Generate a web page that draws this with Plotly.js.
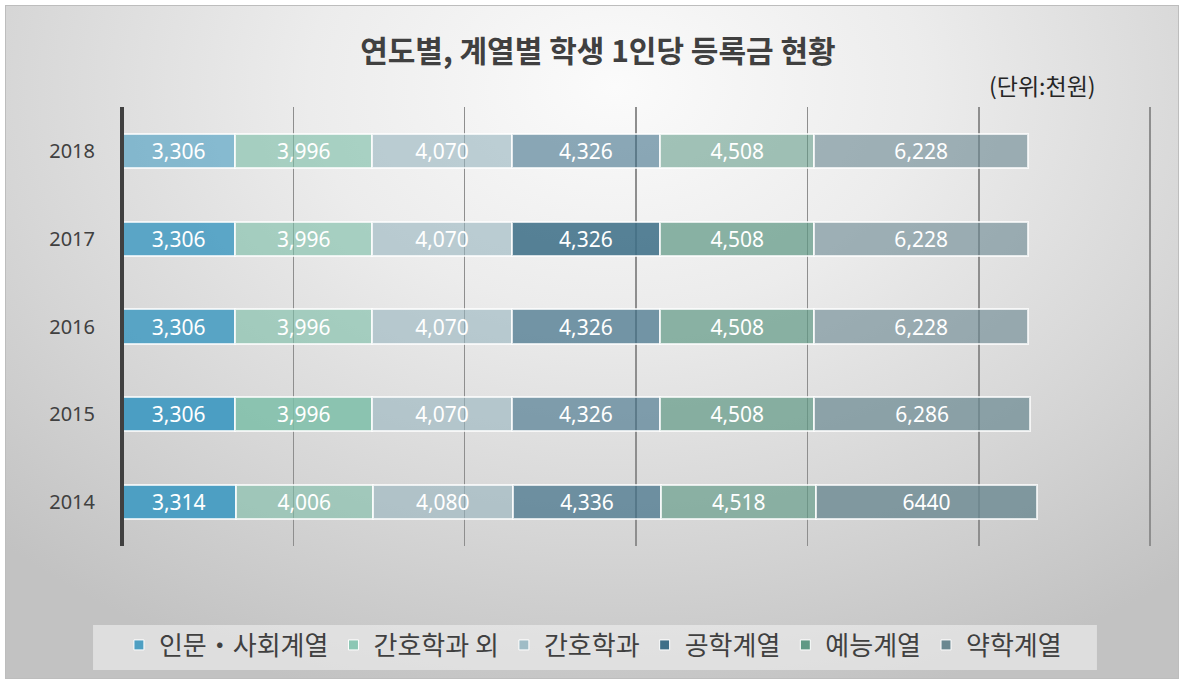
<!DOCTYPE html>
<html>
<head>
<meta charset="utf-8">
<script src="https://cdn.plot.ly/plotly-3.0.1.min.js"></script>
<style>
  html, body { margin: 0; padding: 0; background: #ffffff; }
  #frame {
    position: absolute; left: 5px; top: 5px; width: 1172px; height: 672px;
    border: 1px solid #bdbdbd;
    background: radial-gradient(ellipse 75% 95% at 52% 12%, #fbfbfb 0%, #ececec 35%, #d6d6d6 70%, #c2c2c2 100%);
  }
  #chart { position: absolute; left: 0; top: 0; width: 1184px; height: 684px; }
</style>
</head>
<body>
<div id="frame"></div>
<div id="chart"></div>
<script>
// ---- data ----
const years = ['2014', '2015', '2016', '2017', '2018'];
const seriesNames = ['인문・사회계열', '간호학과 외', '간호학과', '공학계열', '예능계열', '약학계열'];
const humanities = [3314, 3306, 3306, 3306, 3306];
const nursingOther = [4006, 3996, 3996, 3996, 3996];
const nursing = [4080, 4070, 4070, 4070, 4070];
const engineering = [4336, 4326, 4326, 4326, 4326];
const arts = [4518, 4508, 4508, 4508, 4508];
const pharmacy = [6440, 6286, 6228, 6228, 6228];
const humanitiesLabels = ['3,314', '3,306', '3,306', '3,306', '3,306'];
const nursingOtherLabels = ['4,006', '3,996', '3,996', '3,996', '3,996'];
const nursingLabels = ['4,080', '4,070', '4,070', '4,070', '4,070'];
const engineeringLabels = ['4,336', '4,326', '4,326', '4,326', '4,326'];
const artsLabels = ['4,518', '4,508', '4,508', '4,508', '4,508'];
const pharmacyLabels = ['6440', '6,286', '6,228', '6,228', '6,228'];

// ---- styles ----
const baseRGB = [[70,156,194],[125,190,168],[150,180,190],[62,111,136],[95,153,133],[106,136,145]];
const legendColors = ['#4e9fc2', '#8cc7b4', '#9fbcc6', '#3e6f88', '#5f9985', '#6a8891'];
const alphas = [
  [0.95, 0.97, 0.88, 0.87, 0.60],
  [0.60, 0.85, 0.62, 0.62, 0.62],
  [0.60, 0.60, 0.60, 0.60, 0.60],
  [0.70, 0.61, 0.70, 0.87, 0.59],
  [0.65, 0.70, 0.70, 0.72, 0.57],
  [0.80, 0.71, 0.62, 0.61, 0.61]
];
const values = [humanities, nursingOther, nursing, engineering, arts, pharmacy];
const labels = [humanitiesLabels, nursingOtherLabels, nursingLabels, engineeringLabels, artsLabels, pharmacyLabels];

const numFont = 'Noto Sans, Open Sans, sans-serif';
const krFont = 'Noto Sans CJK KR, Noto Sans, sans-serif';

const traces = [];
values.forEach((v, i) => {
  const rgb = baseRGB[i];
  traces.push({
    type: 'bar', orientation: 'h',
    y: years, x: v, text: labels[i],
    name: seriesNames[i], showlegend: false,
    textposition: 'inside', insidetextanchor: 'middle', textangle: 0,
    textfont: { color: '#ffffff', size: 21, family: numFont },
    constraintext: 'none',
    marker: {
      color: alphas[i].map(a => `rgba(${rgb[0]},${rgb[1]},${rgb[2]},${a})`),
      line: { color: 'rgba(255,255,255,0.75)', width: 2 }
    },
    hoverinfo: 'skip'
  });
});
seriesNames.forEach((n, i) => {
  traces.push({
    type: 'scatter', mode: 'markers', x: [null], y: [null],
    name: n, showlegend: true,
    marker: { symbol: 'square', size: 10, color: legendColors[i], line: { color: '#ffffff', width: 1 } },
    hoverinfo: 'skip'
  });
});

const layout = {
  width: 1184, height: 684,
  paper_bgcolor: 'rgba(0,0,0,0)', plot_bgcolor: 'rgba(0,0,0,0)',
  margin: { l: 122, r: 27, t: 107, b: 138 },
  barmode: 'stack', bargap: 0.61,
  title: {
    text: '연도별, 계열별 학생 1인당 등록금 현황',
    font: { family: krFont, size: 30, color: '#404040', weight: 'bold' },
    x: 0.505, xanchor: 'center', y: 0.924, yanchor: 'middle', yref: 'container'
  },
  xaxis: {
    range: [0, 30200], dtick: 5000, tick0: 0,
    showgrid: true, gridcolor: '#8e8e8e', gridwidth: 1.5,
    showticklabels: false, zeroline: false, showline: false, fixedrange: true
  },
  yaxis: {
    type: 'category', showgrid: false, zeroline: false, showline: false,
    ticks: 'outside', ticklen: 22, tickcolor: 'rgba(0,0,0,0)',
    tickfont: { family: numFont, size: 20, color: '#404040' }, fixedrange: true
  },
  shapes: [
    {
      type: 'line', xref: 'paper', yref: 'paper', x0: 0, x1: 0, y0: 0, y1: 1,
      line: { color: '#404040', width: 4 }, layer: 'above'
    },
    {
      type: 'rect', xref: 'paper', yref: 'paper', x0: -0.028, x1: 0.942, y0: -0.2825, y1: -0.18,
      fillcolor: 'rgba(240,240,240,0.6)', line: { width: 0 }, layer: 'below'
    }
  ],
  annotations: [{
    text: '(단위:천원)', xref: 'paper', yref: 'paper', x: 0.889, y: 1.05,
    xanchor: 'center', yanchor: 'middle', showarrow: false,
    font: { family: krFont, size: 23, color: '#262626' }
  }],
  legend: {
    orientation: 'h', x: 0.455, xanchor: 'center', y: -0.172, yanchor: 'top',
    bgcolor: 'rgba(0,0,0,0)',
    font: { family: krFont, size: 26, color: '#404040' },
    traceorder: 'normal', itemclick: false, itemdoubleclick: false
  },
  hovermode: false
};

Plotly.newPlot('chart', traces, layout, { displayModeBar: false, staticPlot: true });
</script>
</body>
</html>
